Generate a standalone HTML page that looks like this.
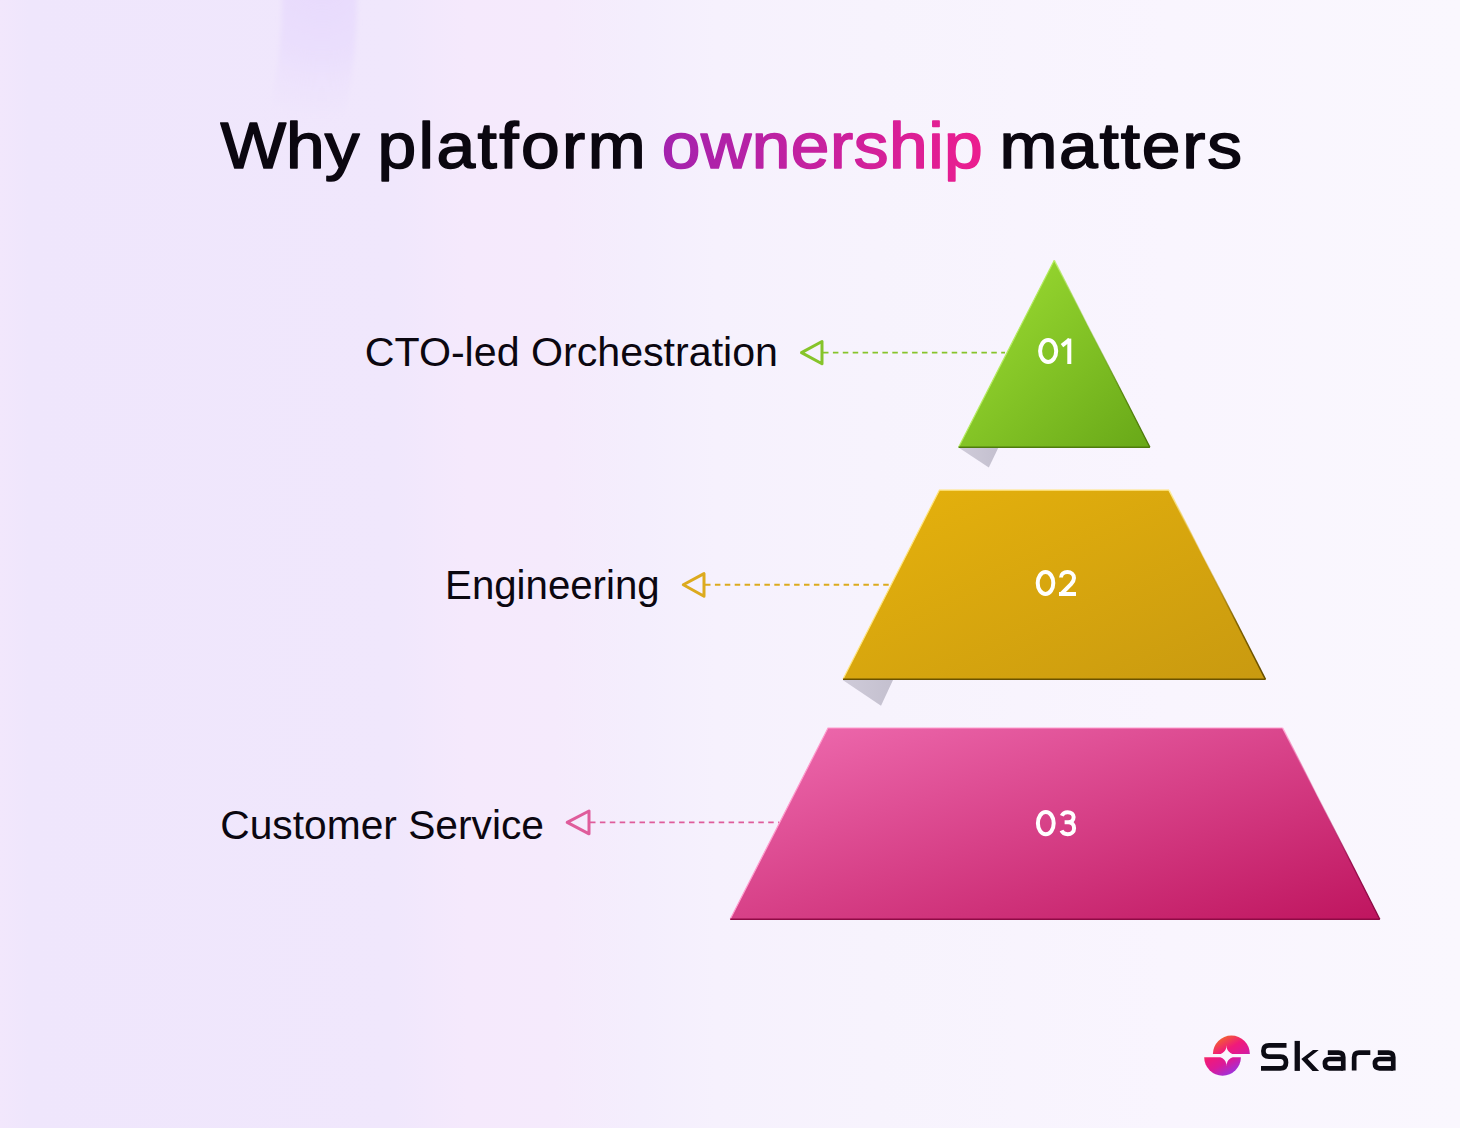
<!DOCTYPE html>
<html>
<head>
<meta charset="utf-8">
<style>
html,body{margin:0;padding:0;}
body{width:1460px;height:1128px;overflow:hidden;position:relative;
background:linear-gradient(90deg,#f2e7fc 0%,#efe6fc 2%,#f0e7fc 27%,#f5e9fc 32%,#f5eafc 38%,#f4eefd 44%,#f6f1fd 49%,#f7f3fd 60%,#f9f5fe 80%,#faf7fe 100%);
font-family:"Liberation Sans",sans-serif;}
svg{position:absolute;left:0;top:0;}
</style>
</head>
<body>
<svg width="1460" height="1128" viewBox="0 0 1460 1128">
<defs>
  <linearGradient id="own" x1="0" y1="0" x2="1" y2="0">
    <stop offset="0" stop-color="#a323ae"/>
    <stop offset="1" stop-color="#ec1e8f"/>
  </linearGradient>
  <linearGradient id="g1" x1="0" y1="0" x2="1" y2="1">
    <stop offset="0" stop-color="#a0e034"/>
    <stop offset="1" stop-color="#68a818"/>
  </linearGradient>
  <linearGradient id="g2" x1="0" y1="0" x2="1" y2="1">
    <stop offset="0" stop-color="#e6b20c"/>
    <stop offset="1" stop-color="#c99a10"/>
  </linearGradient>
  <linearGradient id="g3" x1="0" y1="0" x2="1" y2="1">
    <stop offset="0" stop-color="#ef6cb0"/>
    <stop offset="1" stop-color="#bf155f"/>
  </linearGradient>
  <linearGradient id="sh" x1="0" y1="0" x2="1" y2="0">
    <stop offset="0" stop-color="#cfcbd9"/>
    <stop offset="1" stop-color="#c4c0cf"/>
  </linearGradient>
  <linearGradient id="logo" gradientUnits="userSpaceOnUse" x1="1216" y1="1036" x2="1238" y2="1075">
    <stop offset="0" stop-color="#f47a1e"/>
    <stop offset="0.18" stop-color="#f24a48"/>
    <stop offset="0.38" stop-color="#f01a7a"/>
    <stop offset="0.62" stop-color="#dc1a98"/>
    <stop offset="0.82" stop-color="#b02ac8"/>
    <stop offset="1" stop-color="#8a3cf2"/>
  </linearGradient>
</defs>

<!-- faint ring top-left -->
<defs>
  <radialGradient id="ringg" gradientUnits="userSpaceOnUse" cx="322" cy="-20" r="150">
    <stop offset="0" stop-color="#e5d6fd" stop-opacity="0.8"/>
    <stop offset="0.5" stop-color="#e7d9fd" stop-opacity="0.6"/>
    <stop offset="0.8" stop-color="#eadefd" stop-opacity="0.25"/>
    <stop offset="1" stop-color="#ede2fc" stop-opacity="0"/>
  </radialGradient>
  <filter id="blur4" filterUnits="userSpaceOnUse" x="-800" y="-600" width="1300" height="1200"><feGaussianBlur stdDeviation="2.5"/></filter>
</defs>
<circle cx="-200" cy="0" r="519.5" fill="none" stroke="url(#ringg)" stroke-width="75" filter="url(#blur4)"/>

<!-- Title -->
<g transform="scale(1.07 1)" font-family="Liberation Sans" font-weight="400" font-size="65" fill="#0b0710" stroke="#0b0710" stroke-width="1.6" stroke-linejoin="round">
  <text x="205.98" y="167.9" textLength="129.91" lengthAdjust="spacing">Why</text>
  <text x="352.71" y="167.9" textLength="250.65" lengthAdjust="spacing">platform</text>
  <text x="618.50" y="167.9" textLength="300.00" lengthAdjust="spacing" fill="url(#own)" stroke="url(#own)">ownership</text>
  <text x="934.02" y="167.9" textLength="226.73" lengthAdjust="spacing">matters</text>
</g>

<!-- Labels -->
<g font-family="Liberation Sans" font-size="40" fill="#0b0710">
  <text x="364.8" y="365.8" textLength="413.2" lengthAdjust="spacingAndGlyphs">CTO-led Orchestration</text>
  <text x="445.1" y="598.6" textLength="214.5" lengthAdjust="spacingAndGlyphs">Engineering</text>
  <text x="220.3" y="838.6" textLength="323.7" lengthAdjust="spacingAndGlyphs">Customer Service</text>
</g>

<!-- Arrows + dashed lines -->
<g fill="none" stroke-linejoin="round" stroke-linecap="round" stroke-width="3">
  <path d="M801.5 352.6 L822 341.5 L822 363.8 Z" stroke="#86c42a"/>
  <path d="M683.3 584.8 L704 573.6 L704 596.2 Z" stroke="#dcaa1e"/>
  <path d="M567.2 822.4 L589 811 L589 833.8 Z" stroke="#df5c9b"/>
</g>
<g fill="none" stroke-width="1.9" stroke-dasharray="5.5 4.4">
  <line x1="823" y1="352.6" x2="1005" y2="352.6" stroke="#86c42a"/>
  <line x1="705" y1="584.8" x2="890" y2="584.8" stroke="#dcaa1e"/>
  <line x1="590" y1="822.4" x2="779" y2="822.4" stroke="#df5c9b"/>
</g>

<!-- shadows -->
<path d="M959.3 448 L998.2 448 L988.8 467.5 Z" fill="url(#sh)"/>
<path d="M842.7 680 L893 680 L881 705.8 Z" fill="url(#sh)"/>

<!-- pyramid pieces -->
<defs>
  <linearGradient id="e1" gradientUnits="userSpaceOnUse" x1="0" y1="260" x2="0" y2="447">
    <stop offset="0" stop-color="#c4f27a"/><stop offset="0.35" stop-color="#7fbf22" stop-opacity="0.3"/><stop offset="0.7" stop-color="#5a8a10"/><stop offset="1" stop-color="#4a7608"/>
  </linearGradient>
  <linearGradient id="e2" gradientUnits="userSpaceOnUse" x1="0" y1="490" x2="0" y2="679">
    <stop offset="0" stop-color="#fff0a0"/><stop offset="0.35" stop-color="#d8a80c" stop-opacity="0.3"/><stop offset="0.7" stop-color="#806200"/><stop offset="1" stop-color="#644c00"/>
  </linearGradient>
  <linearGradient id="e3" gradientUnits="userSpaceOnUse" x1="0" y1="728" x2="0" y2="919">
    <stop offset="0" stop-color="#ffb0d8"/><stop offset="0.35" stop-color="#d84088" stop-opacity="0.3"/><stop offset="0.7" stop-color="#9a0c4c"/><stop offset="1" stop-color="#880840"/>
  </linearGradient>
</defs>
<path d="M1054.3 260.2 L1149.9 447.2 L958.6 447.2 Z" fill="url(#g1)"/>
<path d="M958.6 447.2 L1054.3 260.2" fill="none" stroke="#b4ec5e" stroke-width="1.2"/>
<path d="M1054.3 260.2 L1149.9 447.2" fill="none" stroke="url(#e1)" stroke-width="1.4"/>
<path d="M958.6 447.2 L1149.9 447.2" fill="none" stroke="#4e7c0c" stroke-width="1.5"/>
<path d="M939.4 490.2 L1169 490.2 L1265.5 679.3 L843 679.3 Z" fill="url(#g2)"/>
<path d="M843 679.3 L939.4 490.2 L1169 490.2" fill="none" stroke="#ffe47a" stroke-width="1.2"/>
<path d="M1169 490.2 L1265.5 679.3" fill="none" stroke="url(#e2)" stroke-width="1.5"/>
<path d="M843 679.3 L1265.5 679.3" fill="none" stroke="#6a5200" stroke-width="1.6"/>
<path d="M828 728 L1282.7 728 L1379.8 919.3 L730.2 919.3 Z" fill="url(#g3)"/>
<path d="M730.2 919.3 L828 728 L1282.7 728" fill="none" stroke="#ff9ccd" stroke-width="1.2"/>
<path d="M1282.7 728 L1379.8 919.3" fill="none" stroke="url(#e3)" stroke-width="1.4"/>
<path d="M730.2 919.3 L1379.8 919.3" fill="none" stroke="#8e0a45" stroke-width="1.5"/>

<!-- numbers -->
<g fill="none" stroke="#ffffff" stroke-width="4">
  <ellipse cx="1048.15" cy="351.05" rx="8.05" ry="10.95"/>
  <path d="M1069.3 338.6 V364"/>
  <path d="M1069.6 339.6 L1062 345.6"/>
  <ellipse cx="1045.5" cy="583" rx="7.8" ry="11"/>
  <path d="M1061 577.6 C1061 574.3 1063.7 572 1067.4 572 C1071.2 572 1074 574.6 1074 578 C1074 580.4 1072.8 582.2 1071 584.2 L1061.6 593.6"/>
  <path d="M1059 594 H1076"/>
  <ellipse cx="1045.8" cy="823.15" rx="7.9" ry="11.15"/>
  <path d="M1061.8 815.8 C1062.8 813.5 1064.8 812.2 1067.6 812.2 C1071.2 812.2 1073.6 814.3 1073.6 817.1 C1073.6 820 1071.4 822.3 1068.2 822.3 H1064.6 M1068.2 822.3 C1071.9 822.3 1074.1 824.8 1074.1 828.2 C1074.1 831.9 1071.3 834.3 1067.6 834.3 C1064.7 834.3 1062.5 833 1061.5 830.6"/>
</g>

<!-- Logo -->
<g mask="url(#starm)">
  <path d="M1212.9 1054.05 A18.5 18.5 0 0 1 1249.9 1054.05 Z" fill="url(#logo)"/>
  <path d="M1204.2 1057.3 A18.35 18.35 0 0 0 1240.9 1057.3 Z" fill="url(#logo)"/>
</g>
<defs>
  <mask id="starm" maskUnits="userSpaceOnUse" x="1190" y="1020" width="80" height="70">
    <rect x="1190" y="1020" width="80" height="70" fill="#fff"/>
    <path d="M1226.5 1045.2 Q1226.5 1055.6 1242.5 1055.6 Q1226.5 1055.6 1226.5 1066.4 Q1226.5 1055.6 1210.5 1055.6 Q1226.5 1055.6 1226.5 1045.2 Z" fill="#000"/>
  </mask>
</defs>
<g fill="none" stroke="#0c0b14" stroke-width="4.7">
  <path d="M1286.5 1045.4 H1269 Q1263.4 1045.4 1263.4 1051 Q1263.4 1056.65 1269 1056.65 H1280.4 Q1286 1056.65 1286 1062.5 Q1286 1068.45 1280.4 1068.45 H1261"/>
  <path d="M1297.25 1040.9 V1070.9" stroke-width="5.3"/>
  <path d="M1327.8 1052.55 H1338.5 Q1343.25 1052.55 1343.25 1057.3 V1070.6"/>
  <path d="M1343.25 1059 H1329.5 Q1324.9 1059 1324.9 1063.6 Q1324.9 1068.3 1329.5 1068.3 H1343.25"/>
  <path d="M1354.15 1070.6 V1057.5 Q1354.15 1052.55 1359 1052.55 H1370.3"/>
  <path d="M1377.8 1052.55 H1388.5 Q1393.25 1052.55 1393.25 1057.3 V1070.6"/>
  <path d="M1393.25 1059 H1379.5 Q1374.9 1059 1374.9 1063.6 Q1374.9 1068.3 1379.5 1068.3 H1393.25"/>
</g>
<path d="M1301.3 1059.1 L1313 1050.1 L1318.8 1050.1 L1307.6 1058.8 L1319.1 1070.9 L1312.5 1070.9 Z" fill="#0c0b14"/>
</svg>
</body>
</html>
